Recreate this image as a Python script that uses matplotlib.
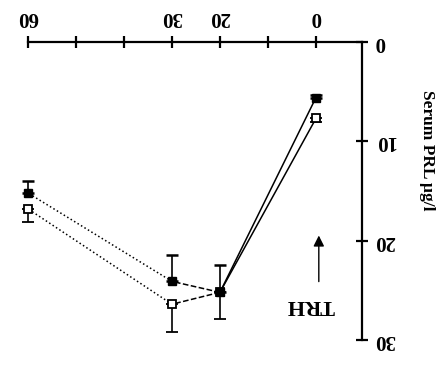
import matplotlib
matplotlib.use("Agg")
import matplotlib.pyplot as plt

# Data (time in minutes, serum PRL in ug/l)
times = [0, 20, 30, 60]
filled_vals = [5.6, 25.2, 24.1, 15.2]
open_vals = [7.7, 25.2, 26.4, 16.8]
filled_err_up = [0.3, 2.8, 2.7, 1.2]   # towards lower PRL values
open_err_down = [0.4, 2.7, 2.8, 1.3]   # towards higher PRL values
xtick_pos = [0, 10, 20, 30, 40, 50, 60]
xtick_labels = ["0", "", "20", "30", "", "", "60"]
ytick_pos = [0, 10, 20, 30]
ytick_labels = ["0", "10", "20", "30"]

fig = plt.figure(figsize=(4.37, 3.74), dpi=100)
ax = fig.add_axes([28/437, 34/374, 334/437, 298/374])
ax.set_xlim(60, -9.6)
ax.set_ylim(30, 0)

for s in ["left", "bottom"]:
    ax.spines[s].set_visible(False)
for s in ["top", "right"]:
    ax.spines[s].set_linewidth(1.6)

ax.xaxis.tick_top()
ax.yaxis.tick_right()
ax.set_xticks(xtick_pos)
ax.set_xticklabels(xtick_labels, rotation=180, fontfamily="Liberation Serif",
                   fontweight="bold", fontsize=15)
ax.set_yticks(ytick_pos)
ax.set_yticklabels(ytick_labels, rotation=180, fontfamily="Liberation Serif",
                   fontweight="bold", fontsize=15, va="center")
ax.tick_params(axis="x", direction="inout", length=8, width=1.6, pad=7)
ax.tick_params(axis="y", direction="inout", length=8, width=1.6, pad=5)

styles = ["-", "--", ":"]
for i in range(len(times) - 1):
    seg = slice(i, i + 2)
    ax.plot(times[seg], open_vals[seg], color="black", lw=1.1, ls=styles[i],
            clip_on=False)
    ax.plot(times[seg], filled_vals[seg], color="black", lw=1.1, ls=styles[i],
            clip_on=False)

eb1 = ax.errorbar(times, open_vals, yerr=[[0]*4, open_err_down], fmt="s", ms=6,
                  mfc="white", mec="black", mew=1.3, ecolor="black",
                  elinewidth=1.2, capsize=4, capthick=1.8, zorder=3)
eb2 = ax.errorbar(times, filled_vals, yerr=[filled_err_up, [0]*4], fmt="s", ms=6,
                  mfc="black", mec="black", ecolor="black", elinewidth=1.2,
                  capsize=4, capthick=1.8, zorder=4)
for eb in (eb1, eb2):
    for art in eb.get_children():
        art.set_clip_on(False)

ax.annotate("", xy=(-0.6, 19.2), xytext=(-0.6, 24.4),
            arrowprops=dict(arrowstyle="-|>", color="black", lw=1.0,
                            mutation_scale=16))
ax.text(1.2, 26.5, "TRH", rotation=180, ha="center", va="center",
        fontfamily="Liberation Serif", fontweight="bold", fontsize=16)

fig.text(427/437, 1 - 150/374, "Serum PRL µg/l", rotation=270,
         ha="center", va="center", fontfamily="Liberation Serif",
         fontweight="bold", fontsize=12.5)

fig.savefig("out.png", dpi=100)
